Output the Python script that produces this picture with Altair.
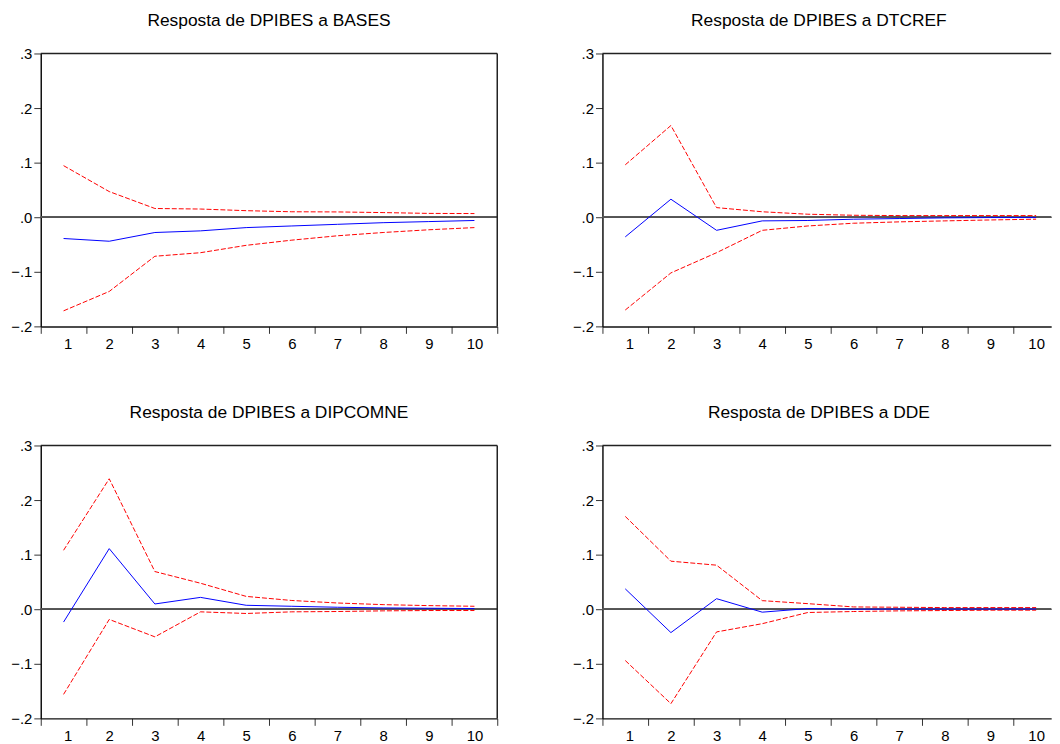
import altair as alt
import pandas as pd

steps = [1, 2, 3, 4, 5, 6, 7, 8, 9, 10]

titles = [
    "Resposta de DPIBES a BASES",
    "Resposta de DPIBES a DTCREF",
    "Resposta de DPIBES a DIPCOMNE",
    "Resposta de DPIBES a DDE",
]

# BASES
resp_bases = [-0.039, -0.044, -0.028, -0.025, -0.019, -0.016, -0.013, -0.010, -0.008, -0.006]
upper_bases = [0.0945, 0.047, 0.016, 0.015, 0.012, 0.010, 0.0097, 0.0085, 0.007, 0.0067]
lower_bases = [-0.1715, -0.136, -0.0715, -0.065, -0.0515, -0.042, -0.034, -0.028, -0.023, -0.019]

# DTCREF
resp_dtcref = [-0.036, 0.033, -0.024, -0.0067, -0.006, -0.0036, -0.0024, -0.0012, -0.0006, -0.0006]
upper_dtcref = [0.096, 0.168, 0.0176, 0.010, 0.0055, 0.0036, 0.003, 0.003, 0.003, 0.003]
lower_dtcref = [-0.170, -0.102, -0.065, -0.024, -0.016, -0.011, -0.0085, -0.0067, -0.005, -0.0036]

# DIPCOMNE
resp_dipcomne = [-0.0235, 0.111, 0.0096, 0.0217, 0.0072, 0.0054, 0.0036, 0.0024, 0.0018, 0.0012]
upper_dipcomne = [0.108, 0.239, 0.069, 0.0476, 0.0235, 0.016, 0.0114, 0.0084, 0.0066, 0.0054]
lower_dipcomne = [-0.156, -0.0187, -0.0506, -0.0048, -0.0078, -0.0048, -0.0042, -0.003, -0.0024, -0.0024]

# DDE
resp_dde = [0.0373, -0.0428, 0.0193, -0.0054, 0.0012, 0.0, 0.0003, 0.0003, 0.0003, 0.0003]
upper_dde = [0.170, 0.088, 0.0807, 0.0157, 0.0102, 0.0042, 0.0036, 0.003, 0.003, 0.003]
lower_dde = [-0.094, -0.173, -0.0416, -0.0265, -0.006, -0.0042, -0.003, -0.0024, -0.0018, -0.0018]

y_ticks = [-0.2, -0.1, 0.0, 0.1, 0.2, 0.3]
x_edges = [0.5, 1.5, 2.5, 3.5, 4.5, 5.5, 6.5, 7.5, 8.5, 9.5, 10.5]

H = 275
FONT = "Liberation Sans"


def panel(title, resp, lower, upper, W, xmax, right_frame, dx):
    df = pd.DataFrame({"step": steps, "resp": resp, "lower": lower, "upper": upper})
    band = W / (xmax - 0.5)
    xvals = [v for v in x_edges if v <= xmax]
    xscale = alt.Scale(domain=[0.5, xmax], nice=False, zero=False)
    yscale = alt.Scale(domain=[-0.2, 0.3], nice=False, zero=False)
    xaxis = alt.Axis(
        values=xvals,
        labelExpr="datum.value < 10 ? toString(datum.value + 0.5) : ''",
        labelOffset=band / 2,
        tickSize=7,
        labelPadding=3,
        labelAngle=0,
        title=None,
        grid=False,
    )
    yaxis = alt.Axis(
        values=y_ticks,
        labelExpr="replace(format(datum.value, '.1f'), '0.', '.')",
        tickSize=7,
        labelPadding=2,
        title=None,
        grid=False,
    )
    base = alt.Chart(df)
    enc_x = alt.X("step:Q", scale=xscale, axis=xaxis)
    up = base.mark_line(color="#ff0000", strokeDash=[5, 2], strokeWidth=1).encode(
        x=enc_x, y=alt.Y("upper:Q", scale=yscale, axis=yaxis)
    )
    lo = base.mark_line(color="#ff0000", strokeDash=[5, 2], strokeWidth=1).encode(
        x=enc_x, y=alt.Y("lower:Q", scale=yscale, axis=yaxis)
    )
    mid = base.mark_line(color="#0000ff", strokeWidth=1).encode(
        x=enc_x, y=alt.Y("resp:Q", scale=yscale, axis=yaxis)
    )
    zero = base.mark_rule(color="#555555", strokeWidth=1).encode(
        y=alt.datum(0, scale=yscale)
    )
    one = alt.Chart(pd.DataFrame({"a": [0]}))
    top = one.mark_rule(color="#222222", strokeWidth=1.5).encode(
        x=alt.value(0), x2=alt.value(W), y=alt.value(0)
    )
    layers = [zero, up, lo, mid, top]
    if right_frame:
        rgt = one.mark_rule(color="#222222", strokeWidth=1.5).encode(
            x=alt.value(W), y=alt.value(0), y2=alt.value(H)
        )
        layers.append(rgt)
    return alt.layer(*layers).properties(
        width=W,
        height=H,
        title=alt.TitleParams(
            title, fontSize=17.5, font=FONT, fontWeight="normal", color="black",
            anchor="middle", offset=17, dx=dx
        ),
    )


WL = 460
XR = 10.33
WR = 460 * (XR - 0.5) / 10

p1 = panel(titles[0], resp_bases, lower_bases, upper_bases, WL, 10.5, True, 0)
p2 = panel(titles[1], resp_dtcref, lower_dtcref, upper_dtcref, WR, XR, False, -8)
p3 = panel(titles[2], resp_dipcomne, lower_dipcomne, upper_dipcomne, WL, 10.5, True, 0)
p4 = panel(titles[3], resp_dde, lower_dde, upper_dde, WR, XR, False, -8)

row1 = alt.hconcat(p1, p2, spacing=74)
row2 = alt.hconcat(p3, p4, spacing=74)

chart = (
    alt.vconcat(row1, row2, spacing=53)
    .properties(padding={"left": 2, "top": 1, "right": 0, "bottom": 0}, background="white")
    .configure_view(stroke=None)
    .configure_axis(
        labelFont=FONT,
        labelFontSize=15,
        labelColor="black",
        tickColor="#333333",
        domainColor="#111111",
        domainWidth=1.5,
        tickWidth=1,
    )
)

chart.save("out.html", embed_options={"renderer": "svg", "actions": False})
